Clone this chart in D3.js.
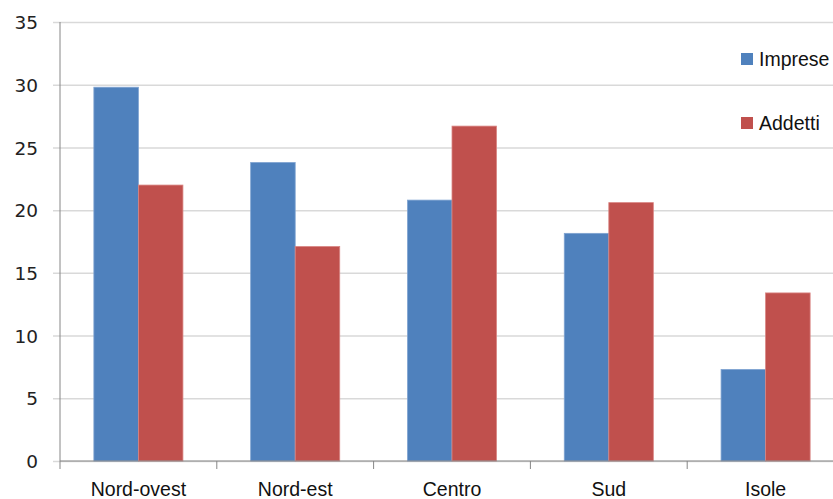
<!DOCTYPE html>
<html>
<head>
<meta charset="utf-8">
<script src="https://cdn.jsdelivr.net/npm/d3@7"></script>
<style>
  html, body { margin: 0; padding: 0; background: #fff; }
  svg { display: block; }
</style>
</head>
<body>
<svg id="chart" width="833" height="499"></svg>
<script>
// Distribuzione percentuale per ripartizione geografica
const categories = ["Nord-ovest", "Nord-est", "Centro", "Sud", "Isole"];
const seriesNames = ["Imprese", "Addetti"];
const imprese = [29.8, 23.8, 20.8, 18.15, 7.3];
const addetti = [22.0, 17.1, 26.7, 20.6, 13.4];
const yTicks = [0, 5, 10, 15, 20, 25, 30, 35];
const colors = ["#4F81BD", "#C0504D"];

const svg = d3.select("#chart");
const W = 833, H = 499;
const plotLeft = 60, plotRight = 844, plotTop = 22, plotBottom = 461;

const x = d3.scaleBand()
  .domain(categories)
  .range([plotLeft, plotRight])
  .paddingInner(0.432)
  .paddingOuter(0.216);

const xs = d3.scaleBand()
  .domain(seriesNames)
  .range([0, x.bandwidth()]);

const y = d3.scaleLinear()
  .domain([0, 35])
  .range([plotBottom, plotTop]);

// gridlines with short ticks left of the axis
const yAxis = d3.axisLeft(y)
  .tickValues(yTicks)
  .tickSize(plotRight - plotLeft + 7)
  .tickFormat(d3.format("d"));

const gy = svg.append("g")
  .attr("transform", `translate(${plotRight},0)`)
  .call(yAxis);
gy.select(".domain").remove();
gy.selectAll(".tick line")
  .attr("stroke", "#D9D9D9")
  .attr("stroke-width", 1.5);
gy.selectAll(".tick text")
  .attr("x", -(plotRight - plotLeft) - 22)
  .attr("dy", "0.36em")
  .attr("fill", "#222")
  .style("font-family", "'DejaVu Sans', sans-serif")
  .style("font-size", "18.5px");

// bars
const rows = categories.map((c, i) => ({ cat: c, values: [imprese[i], addetti[i]] }));
const groups = svg.append("g").selectAll("g")
  .data(rows)
  .join("g")
  .attr("transform", d => `translate(${x(d.cat)},0)`);

groups.selectAll("rect")
  .data(d => d.values.map((v, k) => ({ name: seriesNames[k], value: v, k })))
  .join("rect")
  .attr("x", d => xs(d.name))
  .attr("width", xs.bandwidth())
  .attr("y", d => y(d.value))
  .attr("height", d => y(0) - y(d.value))
  .attr("fill", d => colors[d.k])
  .attr("stroke", d => d.k === 0 ? "#7FA3D1" : "#D98583")
  .attr("stroke-width", 0.8);

// y axis line
svg.append("line")
  .attr("x1", plotLeft).attr("x2", plotLeft)
  .attr("y1", plotTop).attr("y2", plotBottom)
  .attr("stroke", "#868686").attr("stroke-width", 1);

// x axis line with category boundary ticks
svg.append("line")
  .attr("x1", plotLeft).attr("x2", plotRight)
  .attr("y1", plotBottom).attr("y2", plotBottom)
  .attr("stroke", "#868686").attr("stroke-width", 1);

const boundaries = d3.range(categories.length + 1).map(i => plotLeft + i * x.step());
svg.append("g").selectAll("line")
  .data(boundaries)
  .join("line")
  .attr("x1", d => d).attr("x2", d => d)
  .attr("y1", plotBottom).attr("y2", plotBottom + 8)
  .attr("stroke", "#868686").attr("stroke-width", 1);

// category labels
svg.append("g").selectAll("text")
  .data(categories)
  .join("text")
  .attr("x", d => x(d) + x.bandwidth() / 2)
  .attr("y", 496)
  .attr("text-anchor", "middle")
  .attr("fill", "#111")
  .style("font-family", "'Liberation Sans', Arial, sans-serif")
  .style("font-size", "19.5px")
  .text(d => d);

// legend
const legend = svg.append("g").selectAll("g")
  .data(seriesNames)
  .join("g")
  .attr("transform", (d, i) => `translate(741, ${53 + i * 64})`);
legend.append("rect")
  .attr("width", 12).attr("height", 12)
  .attr("fill", (d, i) => colors[i]);
legend.append("text")
  .attr("x", 18)
  .attr("y", 13)
  .attr("fill", "#111")
  .style("font-family", "'Liberation Sans', Arial, sans-serif")
  .style("font-size", "19.5px")
  .text(d => d);
</script>
</body>
</html>
